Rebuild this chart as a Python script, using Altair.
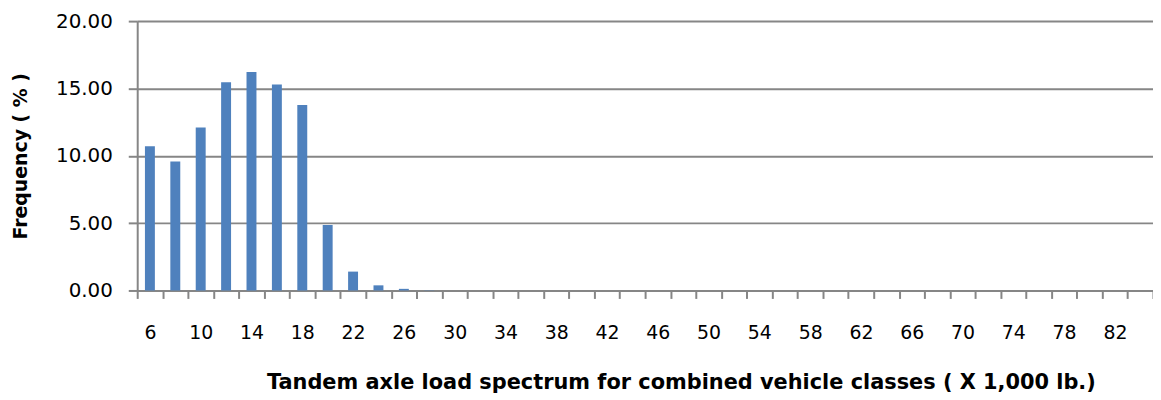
import altair as alt
import pandas as pd

loads = list(range(6, 86, 2))
freq = [10.70, 9.57, 12.10, 15.46, 16.23, 15.29, 13.77, 4.86, 1.40, 0.38,
        0.12, 0.02] + [0.0] * 28

df = pd.DataFrame({"load": loads, "freq": freq})

GRAY = "#868686"
FONT = "DejaVu Sans"

chart = alt.Chart(df).mark_bar(width=10, color="#4F81BD").encode(
    x=alt.X(
        "load:O",
        scale=alt.Scale(paddingInner=0, paddingOuter=0),
        axis=alt.Axis(
            title="Tandem axle load spectrum for combined vehicle classes ( X 1,000 lb.)",
            tickBand="extent",
            labelExpr="(datum.value - 6) % 4 == 0 ? datum.label : ''",
            labelAngle=0,
            labelOverlap=False,
            grid=False,
            domainColor=GRAY,
            domainWidth=2,
            tickColor=GRAY,
            tickWidth=2,
            tickSize=8,
            labelFont=FONT,
            labelFontSize=19,
            labelColor="#000000",
            labelPadding=25,
            titleFont=FONT,
            titleFontSize=21,
            titleFontWeight="bold",
            titleColor="#000000",
            titlePadding=30,
            titleX=547,
            titleAlign="center",
        ),
    ),
    y=alt.Y(
        "freq:Q",
        scale=alt.Scale(domain=[0, 20], nice=False),
        axis=alt.Axis(
            title="Frequency ( % )",
            values=[0, 5, 10, 15, 20],
            format=".2f",
            grid=True,
            gridColor=GRAY,
            gridWidth=2,
            domainColor=GRAY,
            domainWidth=2,
            tickColor=GRAY,
            tickWidth=2,
            tickSize=9,
            labelFont=FONT,
            labelFontSize=20,
            labelColor="#000000",
            labelPadding=16,
            titleFont=FONT,
            titleFontSize=19,
            titleFontWeight="bold",
            titleColor="#000000",
            titlePadding=25,
        ),
    ),
).properties(
    width=1022,
    height=271,
    autosize=alt.AutoSizeParams(type="none"),
    padding={"left": 130, "top": 12, "right": 0, "bottom": 106},
).configure_view(stroke=None)

chart.save("out.html", embed_options={"renderer": "svg", "actions": False})
